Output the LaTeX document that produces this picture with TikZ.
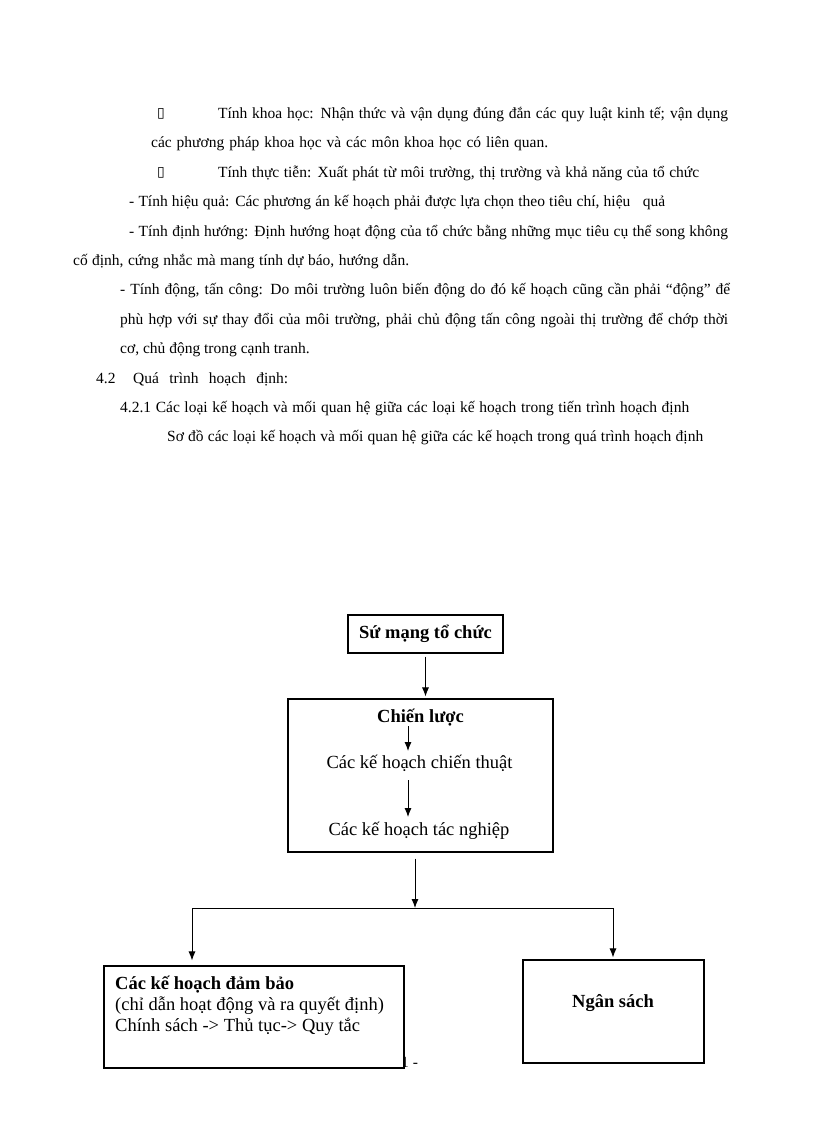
\documentclass[tikz,border=0pt]{standalone}
\usepackage{fontspec}
\setmainfont{Liberation Serif}
\newfontfamily\symfont{DejaVu Sans}
\usetikzlibrary{calc,arrows.meta,positioning}
\newcommand{\jline}[2]{\makebox[#1pt][s]{#2}}

\begin{document}
\begin{tikzpicture}[x=1pt,y=-1pt,
	body/.style={font=\fontsize{15.5}{18}\selectfont, anchor=base west, inner sep=0pt},
	bulletmark/.style={font=\symfont\fontsize{14}{16}\selectfont, anchor=base west, inner sep=0pt},
	boxtext/.style={font=\fontsize{18.5}{21}\selectfont, inner sep=0pt},
	planbox/.style={draw, line width=1.1pt, fill=white, inner sep=0pt},
	arr/.style={-{Latex[length=9pt,width=7pt]}, line width=0.9pt}]
		\path[fill=white] (0,0) rectangle (816,1123);
		\useasboundingbox (0,0) rectangle (816,1123);
		\node[bulletmark] (b1) at (157,118) {▯};
		\node[body] (l1) at (218,118.5) {\jline{510}{Tính  khoa học: Nhận thức và vận dụng đúng đắn các quy luật kinh tế; vận dụng}};
		\node[body] (l2) at (151,147.9) {\jline{397}{các phương pháp khoa học và các môn khoa học có liên quan.}};
		\node[bulletmark] (b2) at (157,177) {▯};
		\node[body] (l3) at (218,177.3) {\jline{481}{Tính thực tiễn: Xuất phát từ môi trường, thị trường và khả năng của tổ chức}};
		\node[body] (l4) at (129,206.7) {\jline{536}{- Tính hiệu quả: Các phương án kế hoạch phải được lựa chọn theo tiêu chí, hiệu\ \ \ quả}};
		\node[body] (l5) at (129,236.1) {\jline{599}{- Tính định hướng: Định hướng hoạt động của tổ chức bằng những mục tiêu cụ thể song không}};
		\node[body] (l6) at (73,265.5) {\jline{336}{cố định, cứng nhắc mà mang tính dự báo, hướng dẫn.}};
		\node[body] (l7) at (120,294.9) {\jline{610}{- Tính động, tấn công: Do môi trường luôn biến động do đó kế hoạch cũng cần phải “động” để}};
		\node[body] (l8) at (120,324.3) {\jline{608}{phù hợp với sự thay đổi của môi trường, phải chủ động tấn công ngoài thị trường để chớp thời}};
		\node[body] (l9) at (120,353.7) {cơ, chủ động trong cạnh tranh.};
		\node[body] (sec) at (96,383.1) {4.2};
		\node[body] (l10) at (133,383.1) {\jline{155}{Quá trình hoạch định:}};
		\node[body] (l11) at (120,412.5) {\jline{569}{4.2.1 Các loại kế hoạch và mối quan hệ giữa các loại kế hoạch trong tiến trình hoạch định}};
		\node[body] (l12) at (167,441.9) {\jline{536}{Sơ đồ các loại kế hoạch và mối quan hệ giữa các kế hoạch trong quá trình hoạch định}};
		\node[body] (page) at (401,1067) {1 -};
		\node[planbox, boxtext, minimum width=155pt, minimum height=38pt, text height=13pt, text depth=5pt] (sm) at (425.5,634) {\bfseries Sứ mạng tổ chức};
		\node[planbox, minimum width=265pt, minimum height=153pt] (cbox) at (420.5,775.5) {};
		\node[boxtext, anchor=base] (cl) at (420.5,722) {\bfseries Chiến lược};
		\node[boxtext, anchor=base] (ct) at (419.5,768) {Các kế hoạch chiến thuật};
		\node[boxtext, anchor=base] (tn) at (419,835) {Các kế hoạch tác nghiệp};
		\node[planbox, minimum width=300pt, minimum height=102pt] (db) at (254,1017) {};
		\node[boxtext, anchor=base west] (db1) at (115,989) {\bfseries Các kế hoạch đảm bảo};
		\node[boxtext, anchor=base west] (db2) at (115,1010) {(chỉ dẫn hoạt động và ra quyết định)};
		\node[boxtext, anchor=base west] (db3) at (115,1031) {Chính sách -> Thủ tục-> Quy tắc};
		\node[planbox, minimum width=181pt, minimum height=103pt] (ns) at (613.5,1011.5) {};
		\node[boxtext, anchor=base] (nst) at (613,1007) {\bfseries Ngân sách};
		\coordinate (ax) at (408,0);
		\coordinate (split) at (415,908);
		\coordinate (bl) at (192,908);
		\coordinate (br) at (613,908);
		\draw[arr, shorten <=3pt, shorten >=2pt] (sm.south) -- (sm.south |- cbox.north);
		\draw[arr] ($(cl.base -| ax)+(0,4)$) -- ($(ct.base -| ax)+(0,-17)$);
		\draw[arr] ($(ct.base -| ax)+(0,12)$) -- ($(tn.base -| ax)+(0,-18)$);
		\draw[arr, shorten <=6pt] (split |- cbox.south) -- (split);
		\draw[line width=0.9pt] (bl) -- (br);
		\draw[arr, shorten >=5pt] (bl) -- (bl |- db.north);
		\draw[arr, shorten >=2pt] (br) -- (br |- ns.north);
	\end{tikzpicture}
\end{document}
